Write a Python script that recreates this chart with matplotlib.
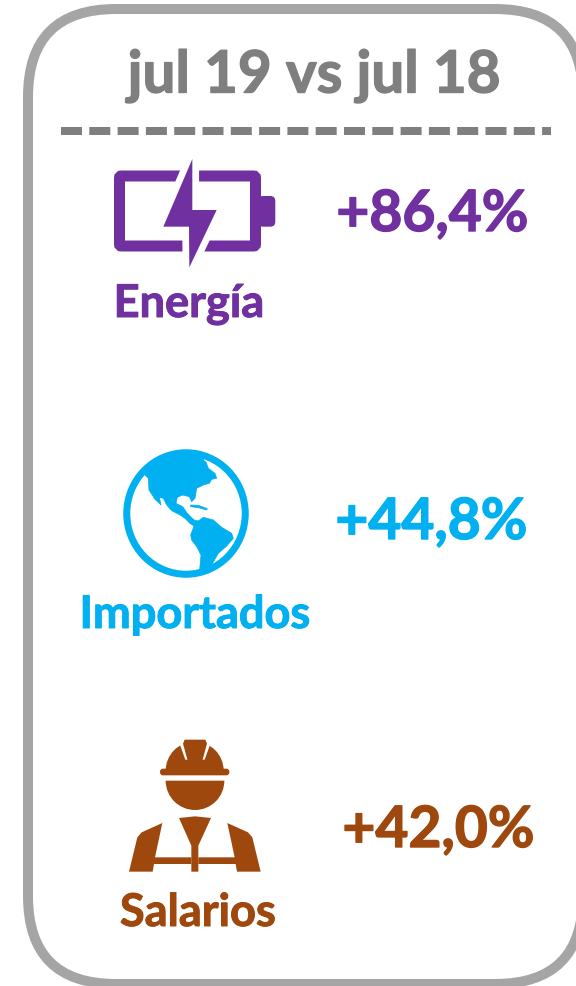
import numpy as np
import matplotlib
matplotlib.use("Agg")
import matplotlib.pyplot as plt
import matplotlib.patheffects as pe
from matplotlib.patches import FancyBboxPatch, Polygon, Wedge, Ellipse

plt.rcParams['font.family'] = ['Lato', 'DejaVu Sans']

title = "jul 19 vs jul 18"
categories = ["Energía", "Importados", "Salarios"]
changes = [86.4, 44.8, 42.0]
colors = ["#7030A0", "#00B0F0", "#9E480E"]
GRAY = "#7F7F7F"
BORDER = "#A5A5A5"

fig = plt.figure(figsize=(5.76, 9.87), dpi=100)
ax = fig.add_axes([0, 0, 1, 1])
ax.set_xlim(0, 576)
ax.set_ylim(987, 0)
ax.axis("off")
PX = 0.72


def bold(col, w):
    return [pe.withStroke(linewidth=w, foreground=col)]


# frame
ax.add_patch(FancyBboxPatch((28, 10), 555, 975, boxstyle="round,pad=0,rounding_size=88",
                            fc="white", ec=BORDER, lw=10 * PX))
# title and dashed rule
ax.text(314, 93.5, title, ha="center", va="baseline", fontsize=42, fontweight="bold", color=GRAY,
        path_effects=bold(GRAY, 1.0))
ax.plot([61, 551], [132, 132], color=GRAY, lw=8 * PX, ls=(0, (21 / 8, 7.3 / 8)), dash_capstyle="butt")

# value and category labels
val_pos = [(432.5, 232), (431.5, 540), (438.5, 848)]
cat_pos = [(189, 318), (195, 629), (198, 927)]
for cat, ch, col, vp, cp in zip(categories, changes, colors, val_pos, cat_pos):
    ax.text(vp[0], vp[1], f"+{ch:.1f}%".replace(".", ","), ha="center", va="baseline",
            fontsize=41, fontweight="bold", color=col, path_effects=bold(col, 1.0))
    ax.text(cp[0], cp[1], cat, ha="center", va="baseline", fontsize=32.5, fontweight="bold", color=col,
            path_effects=bold(col, 0.7))


def tf(points, ox, oy):
    return [(x / 3 + ox, y / 3 + oy) for x, y in points]


# battery icon
c = colors[0]
ox, oy = 90, 141
ax.add_patch(FancyBboxPatch((119.5, 177), 136, 70, boxstyle="round,pad=0,rounding_size=2",
                            fc="none", ec=c, lw=11 * PX))
ax.add_patch(FancyBboxPatch((258, 197), 17.3, 30.7, boxstyle="round,pad=0,rounding_size=5", fc=c, ec="none"))
bolt = tf([(307, 57), (220, 260), (297, 260), (298, 382), (380, 210), (307, 210)], ox, oy)
ax.add_patch(Polygon(bolt, closed=True, fc="white", ec="white", lw=13.5 * PX, joinstyle="round"))
ax.add_patch(Polygon(bolt, closed=True, fc=c, ec="none"))

# globe icon
c = colors[1]
ox, oy = 100, 441
cx, cy = 186, 514.5
clip = Ellipse((cx, cy), 120, 123, transform=ax.transData)
north = tf([(135, 105), (145, 115), (147, 150), (165, 178), (183, 195), (178, 172), (190, 175), (200, 195),
            (215, 212), (240, 225), (255, 235), (270, 250), (282, 240), (262, 220), (248, 200), (228, 190),
            (232, 172), (248, 165), (268, 170), (275, 185), (285, 175), (290, 145), (310, 135), (328, 130),
            (335, 118), (350, 115), (345, 100), (325, 85), (318, 66), (300, 58), (285, 68), (262, 62),
            (248, 72), (250, 85), (265, 95), (280, 90), (295, 80), (312, 78), (322, 88), (300, 30),
            (200, 30), (135, 70)], ox, oy)
south = tf([(272, 285), (285, 250), (310, 232), (340, 240), (365, 262), (395, 280), (400, 295), (380, 318),
            (355, 340), (335, 375), (322, 385), (310, 400), (298, 400), (303, 345), (290, 320), (275, 300)],
           ox, oy)
isthmus = tf([(262, 235), (282, 240), (295, 243), (285, 260), (270, 250)], ox, oy)
cuba = tf([(272, 195), (295, 196), (322, 206), (320, 210), (295, 203), (272, 200)], ox, oy)
for pts in (north, south, isthmus, cuba):
    p = Polygon(pts, closed=True, fc=c, ec=c, lw=0.5, joinstyle="round")
    ax.add_patch(p)
    p.set_clip_path(clip)
ax.add_patch(Ellipse((cx, cy), 118.5, 121.5, fc="none", ec=c, lw=7 * PX))

# worker icon
c = colors[2]
ox, oy = 110, 730
ax.add_patch(Wedge((ox + 254 / 3, oy + 125 / 3), 29, 180, 360, fc=c, ec="none", zorder=2))
ax.add_patch(Polygon(tf([(208, 42), (226, 92), (284, 92), (302, 42)], ox, oy), closed=True, fc="white",
                     ec="none", zorder=3))
ax.add_patch(Polygon(tf([(224, 32), (286, 32), (291, 44), (277, 95), (233, 95), (219, 44)], ox, oy),
                     closed=True, fc=c, ec="none", zorder=4))
ax.add_patch(FancyBboxPatch((ox + 150 / 3, oy + 119 / 3), 208 / 3, 20 / 3, boxstyle="round,pad=0,rounding_size=3",
                            fc=c, ec="none", zorder=4))
ax.add_patch(Wedge((ox + 255 / 3, oy + 155 / 3), 88 / 3, 0, 180, fc=c, ec="none"))
tie = [(207, 267), (255, 262), (303, 267), (265, 350), (265, 428), (244, 428), (244, 350)]
left = [(157, 282), (135, 385), (244, 385), (244, 405), (132, 405), (128, 428), (57, 428), (82, 325), (95, 310)]
right = [(352, 282), (374, 385), (265, 385), (265, 405), (377, 405), (381, 428), (452, 428), (427, 325), (414, 310)]
for pts in (tie, left, right):
    ax.add_patch(Polygon(tf(pts, ox, oy), closed=True, fc=c, ec="none"))

fig.savefig("out.png", dpi=100)
